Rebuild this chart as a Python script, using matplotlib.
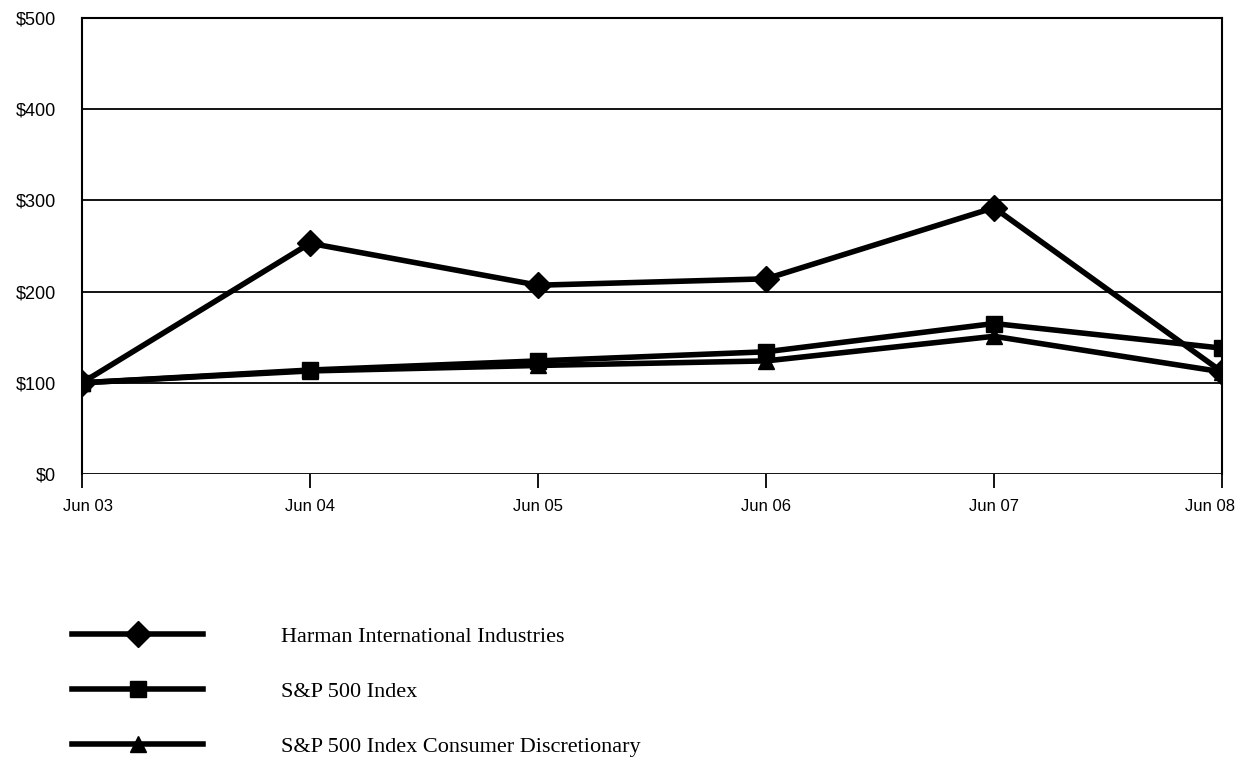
import matplotlib
matplotlib.use('Agg')
import matplotlib.pyplot as plt
from matplotlib.transforms import ScaledTranslation

# data
years = ['Jun 03', 'Jun 04', 'Jun 05', 'Jun 06', 'Jun 07', 'Jun 08']
harman = [100, 253, 207, 214, 292, 112]
sp500 = [100, 114, 124, 134, 165, 138]
sp_cons = [100, 113, 119, 124, 151, 112]
yticks = [0, 100, 200, 300, 400, 500]
ylabels = ['$0', '$100', '$200', '$300', '$400', '$500']

fig = plt.figure(figsize=(12.44, 7.57), dpi=100)
ax = fig.add_axes([82/1244, 1 - 474/757, 1140/1244, 456/757])

x = list(range(len(years)))
for yv in yticks:
    ax.axhline(yv, color='black', lw=1.3, zorder=1)

ax.plot(x, harman, color='black', lw=4, marker='D', ms=13, zorder=3,
        label='Harman International Industries')
ax.plot(x, sp500, color='black', lw=4, marker='s', ms=12, zorder=3,
        label='S&P 500 Index')
ax.plot(x, sp_cons, color='black', lw=4, marker='^', ms=11, zorder=3,
        label='S&P 500 Index Consumer Discretionary')

ax.set_xlim(0, len(years) - 1)
ax.set_ylim(0, 500)
ax.set_xticks(x)
ax.set_xticklabels(years, family='Liberation Sans', fontsize=12)
ax.set_yticks(yticks)
ax.set_yticklabels(ylabels, family='Liberation Sans', fontsize=13)
ax.tick_params(axis='x', length=10, width=1.3, pad=8, direction='out')
ax.tick_params(axis='y', length=0, pad=19)

# nudge end labels inward like the original
xl = ax.get_xticklabels()
xl[0].set_transform(xl[0].get_transform() + ScaledTranslation(6/100, 0, fig.dpi_scale_trans))
xl[-1].set_transform(xl[-1].get_transform() + ScaledTranslation(-12/100, 0, fig.dpi_scale_trans))

for s in ['left', 'right', 'top']:
    ax.spines[s].set_linewidth(1.5)
ax.spines['bottom'].set_visible(False)

leg = ax.legend(loc='upper left', bbox_to_anchor=(72/1244, 1 - 626/757),
                bbox_transform=fig.transFigure, frameon=False, numpoints=1,
                handlelength=5.9, handletextpad=3.5, labelspacing=1.55,
                borderpad=0, borderaxespad=0,
                prop={'family': 'Liberation Serif', 'size': 16})

fig.savefig('out.png', dpi=100)
